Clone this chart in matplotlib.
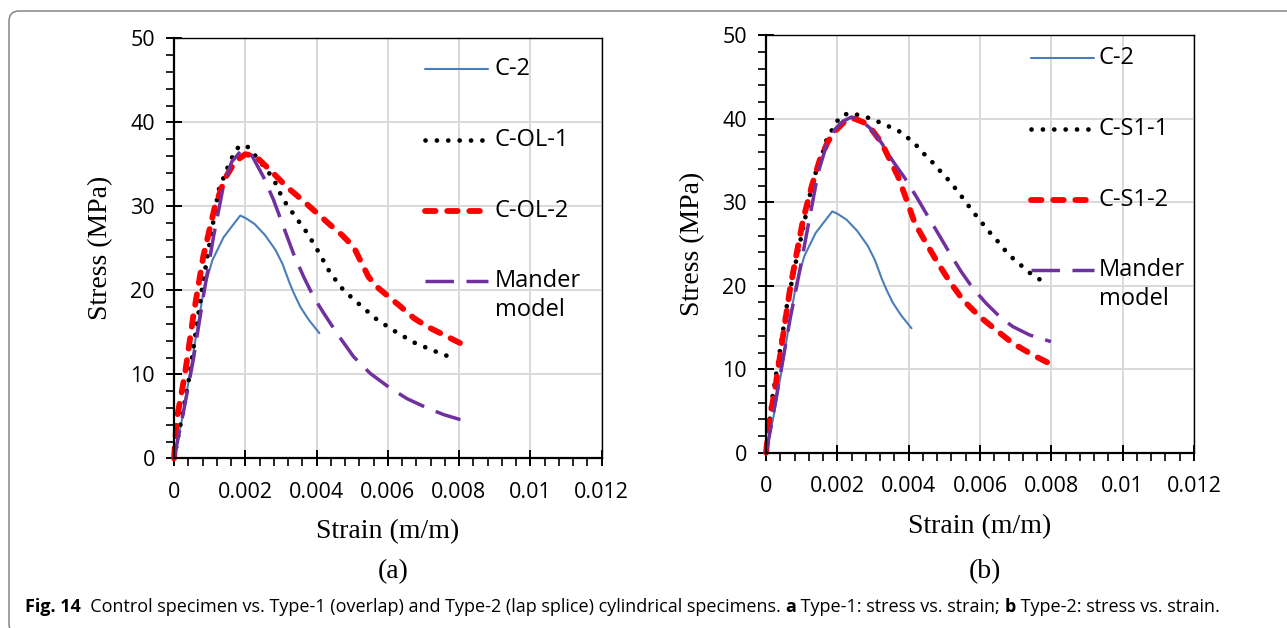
import numpy as np
import matplotlib
matplotlib.use("Agg")
import matplotlib.pyplot as plt
from matplotlib.patches import FancyBboxPatch
from matplotlib.transforms import IdentityTransform
from matplotlib.ticker import MultipleLocator, FixedLocator, FixedFormatter

# ---- data ----
c2_strain = [0, 0.00021, 0.00044, 0.00067, 0.00085, 0.00108, 0.00139, 0.00164, 0.00186, 0.00201,
             0.00226, 0.00255, 0.00285, 0.00305, 0.00325, 0.00338, 0.00355, 0.00378, 0.00408]
c2_stress = [0, 4.3, 9.9, 15.9, 20.3, 23.6, 26.3, 27.7, 28.9, 28.6,
             27.9, 26.6, 24.8, 23.1, 20.8, 19.5, 18.0, 16.5, 14.9]

col1_strain = [0, 0.0004, 0.00081, 0.00125, 0.00157, 0.00176, 0.00202, 0.00223, 0.00242, 0.00279,
               0.00305, 0.0034, 0.00376, 0.00408, 0.00438, 0.00476, 0.00521, 0.0057, 0.00621,
               0.00673, 0.00729, 0.00785]
col1_stress = [0, 8.9, 20.8, 31.9, 35.3, 36.9, 37.3, 36.3, 35.3, 33.3,
               30.9, 28.8, 26.7, 24.4, 22.1, 20.0, 18.3, 16.5, 15.1,
               13.8, 12.8, 11.9]

col2_strain = [0, 0.000075, 0.00031, 0.00054, 0.00082, 0.00115, 0.00143, 0.00171, 0.002, 0.00228,
               0.0027, 0.00317, 0.00364, 0.00401, 0.00438, 0.00471, 0.00504, 0.00527, 0.00546,
               0.0057, 0.00598, 0.00635, 0.00673, 0.0071, 0.00757, 0.00804]
col2_stress = [0, 4.6, 10.1, 16.9, 24.0, 30.0, 33.3, 35.3, 36.2, 36.0,
               34.3, 32.3, 30.6, 29.2, 27.8, 26.6, 25.2, 23.2, 21.6,
               20.4, 19.4, 18.1, 16.7, 15.7, 14.7, 13.7]

mand_a_strain = [0, 0.00026, 0.00054, 0.00082, 0.00111, 0.00139, 0.00162, 0.0019, 0.00218, 0.00251,
                 0.00279, 0.00307, 0.00335, 0.00364, 0.00392, 0.0042, 0.00457, 0.00504, 0.00551,
                 0.00602, 0.00654, 0.0071, 0.00757, 0.00804]
mand_a_stress = [0, 5.4, 11.7, 19.2, 26.4, 32.5, 35.3, 36.7, 36.1, 33.5,
                 30.8, 27.6, 24.4, 21.6, 19.2, 17.3, 14.9, 12.1, 10.1,
                 8.5, 7.1, 6.0, 5.2, 4.6]

cs11_strain = [0, 0.00016, 0.00035, 0.00058, 0.00081, 0.00109, 0.00132, 0.00154, 0.0017, 0.00196,
               0.00212, 0.0024, 0.00268, 0.00298, 0.00326, 0.00354, 0.00382, 0.00406, 0.00429,
               0.00449, 0.00471, 0.00491, 0.00513, 0.00532, 0.0055, 0.00569, 0.00589, 0.00608,
               0.00627, 0.00648, 0.00667, 0.00689, 0.00711, 0.00734, 0.00762, 0.00787]
cs11_stress = [0, 6.1, 11.1, 17.5, 22.3, 27.9, 32.7, 35.2, 37.5, 39.5,
               40.4, 40.7, 40.3, 40.0, 39.4, 38.9, 38.3, 37.4, 36.5,
               35.5, 34.6, 33.6, 32.6, 31.6, 30.6, 29.5, 28.4, 27.4,
               26.4, 25.4, 24.4, 23.4, 22.6, 21.7, 20.9, 20.2]

cs12_strain = [0, 0.00011, 0.00025, 0.00039, 0.00053, 0.00067, 0.00086, 0.00104, 0.00128, 0.00151,
               0.00174, 0.00198, 0.00226, 0.00249, 0.00277, 0.003, 0.00324, 0.00347, 0.0037,
               0.00394, 0.00417, 0.00449, 0.00482, 0.00515, 0.00552, 0.00599, 0.00645, 0.00692,
               0.00748, 0.00799]
cs12_stress = [0, 4.3, 7.5, 11.5, 15.5, 19.5, 23.9, 27.9, 31.9, 35.1,
               37.3, 38.7, 39.9, 40.0, 39.5, 38.5, 37.1, 35.1, 33.1,
               30.3, 27.5, 25.1, 22.7, 20.5, 18.3, 16.3, 14.7, 13.1,
               11.7, 10.6]

mand_b_strain = [0, 0.00016, 0.00039, 0.00067, 0.00095, 0.00123, 0.00146, 0.0017, 0.00193, 0.00216,
                 0.0024, 0.00263, 0.00291, 0.00324, 0.00356, 0.00389, 0.00421, 0.00454, 0.00482,
                 0.00515, 0.00547, 0.0058, 0.00617, 0.00655, 0.00692, 0.00739, 0.00799]
mand_b_stress = [0, 3.5, 9.1, 15.9, 21.9, 28.3, 33.5, 36.9, 38.7, 39.7,
                 40.2, 39.9, 38.9, 37.1, 34.9, 32.9, 30.7, 28.3, 26.3,
                 23.9, 21.7, 19.7, 17.9, 16.3, 15.1, 14.1, 13.3]

x_ticks = [0, 0.002, 0.004, 0.006, 0.008, 0.01, 0.012]
x_ticklabels = ["0", "0.002", "0.004", "0.006", "0.008", "0.01", "0.012"]

# ---- styles ----
BLUE = "#4a7ebb"
PURPLE = "#7030a0"
sans = ["Open Sans", "Noto Sans", "DejaVu Sans"]
serif = ["Liberation Serif", "DejaVu Serif"]

s_c2 = dict(color=BLUE, lw=1.5, solid_capstyle="round")
s_dot = dict(color="black", lw=3.4, linestyle=(0, (0.01, 2.4)), dash_capstyle="round")
s_red = dict(color="#ff0000", lw=4.2, linestyle=(0, (1.8, 2.0)), dash_capstyle="round")
s_mand = dict(color=PURPLE, lw=2.5, linestyle=(0, (8.2, 3.6)), dash_capstyle="butt")

fig = plt.figure(figsize=(12.87, 6.28), dpi=100)

# rounded frame around the figure panel
frame = FancyBboxPatch((9, -6), 1300, 623, boxstyle="round,pad=0,rounding_size=10",
                       transform=IdentityTransform(), fill=False, ec="#7a7a7a", lw=1.0)
fig.patches.append(frame)


def setup_axes(ax):
    ax.set_xlim(0, 0.012)
    ax.set_ylim(0, 50)
    ax.xaxis.set_major_locator(FixedLocator(x_ticks))
    ax.xaxis.set_major_formatter(FixedFormatter(x_ticklabels))
    ax.xaxis.set_minor_locator(MultipleLocator(0.0004))
    ax.yaxis.set_major_locator(MultipleLocator(10))
    ax.yaxis.set_minor_locator(MultipleLocator(2))
    ax.grid(True, which="major", color="#d9d9d9", lw=1.4, zorder=0)
    ax.set_axisbelow(True)
    ax.tick_params(which="major", direction="inout", length=11.5, width=1.4, labelsize=15.5, pad=8)
    ax.tick_params(axis="x", which="major", pad=11)
    ax.tick_params(which="minor", direction="out", length=5.8, width=1.2)
    for lab in ax.get_xticklabels() + ax.get_yticklabels():
        lab.set_family(sans)
    for side in ["left", "bottom"]:
        ax.spines[side].set_linewidth(1.6)
    for side in ["top", "right"]:
        ax.spines[side].set_linewidth(1.0)
    ax.set_xlabel("Strain (m/m)", family=serif, fontsize=20, labelpad=12)
    ax.set_ylabel("Stress (MPa)", family=serif, fontsize=20, labelpad=12)


def draw_key(ax, x0, x1, xt, ys, labels, styles):
    for y, lab, st in zip(ys, labels, styles):
        ax.plot([x0, x1], [y, y], transform=ax.transAxes, clip_on=False, **st)
        lines = lab.split("\n")
        for k, ln in enumerate(lines):
            ax.text(xt, y - k * 0.07, ln, transform=ax.transAxes, fontsize=17,
                    family=sans, va="center", ha="left")


# ---- panel (a) ----
ax1 = fig.add_axes([174 / 1287, (628 - 458.3) / 628, 427.5 / 1287, 420 / 628])
setup_axes(ax1)
ax1.plot(c2_strain, c2_stress, clip_on=False, **s_c2)
ax1.plot(col1_strain, col1_stress, clip_on=False, **s_dot)
ax1.plot(col2_strain, col2_stress, clip_on=False, **s_red)
ax1.plot(mand_a_strain, mand_a_stress, clip_on=False, **s_mand)
draw_key(ax1, 0.587, 0.735, 0.750, [0.926, 0.758, 0.590, 0.423],
         ["C-2", "C-OL-1", "C-OL-2", "Mander\nmodel"], [s_c2, s_dot, s_red, s_mand])
fig.text(393 / 1287, 1 - 572 / 628, "(a)", family=serif, fontsize=20, ha="center", va="center")

# ---- panel (b) ----
ax2 = fig.add_axes([766 / 1287, (628 - 452.7) / 628, 428 / 1287, 417.5 / 628])
setup_axes(ax2)
ax2.plot(c2_strain, c2_stress, clip_on=False, **s_c2)
ax2.plot(cs11_strain, cs11_stress, clip_on=False, **s_dot)
ax2.plot(cs12_strain, cs12_stress, clip_on=False, **s_red)
ax2.plot(mand_b_strain, mand_b_stress, clip_on=False, **s_mand)
draw_key(ax2, 0.618, 0.766, 0.777, [0.945, 0.775, 0.605, 0.437],
         ["C-2", "C-S1-1", "C-S1-2", "Mander\nmodel"], [s_c2, s_dot, s_red, s_mand])
fig.text(985 / 1287, 1 - 572 / 628, "(b)", family=serif, fontsize=20, ha="center", va="center")

# ---- caption with mixed bold pieces, sized to span the panel width ----
pieces = [("Fig. 14", "bold"),
          ("  Control specimen vs. Type-1 (overlap) and Type-2 (lap splice) cylindrical specimens. ", "normal"),
          ("a", "bold"), (" Type-1: stress vs. strain; ", "normal"),
          ("b", "bold"), (" Type-2: stress vs. strain.", "normal")]
renderer = fig.canvas.get_renderer()
cap_x0, cap_x1 = 25, 1228
cap_y = 628 - 607


def put_caption(size, keep):
    x = cap_x0
    made = []
    for txt, wt in pieces:
        t = fig.text(x / 1287, cap_y / 628, txt, fontsize=size, family=sans, weight=wt,
                     va="center", ha="left")
        x += t.get_window_extent(renderer).width
        made.append(t)
    if not keep:
        for t in made:
            t.remove()
    return x - cap_x0


w = put_caption(12.5, keep=False)
put_caption(12.5 * (cap_x1 - cap_x0) / w, keep=True)

fig.savefig("out.png", dpi=100)
